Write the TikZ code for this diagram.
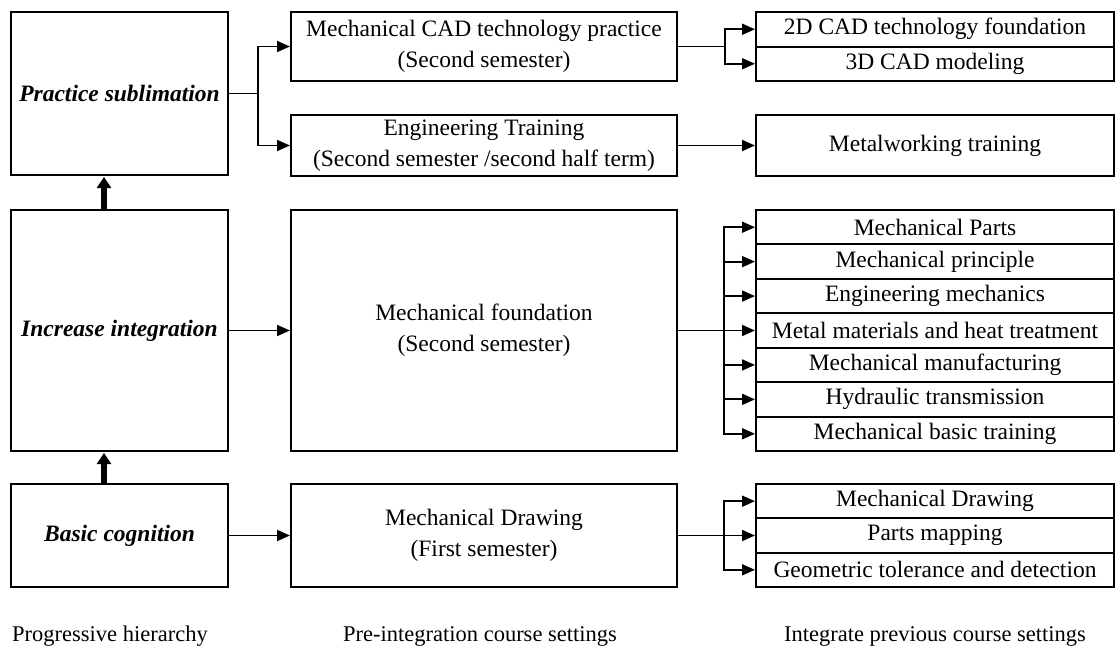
\documentclass[tikz,border=0pt]{standalone}
\usepackage{fontspec}
\setmainfont{Liberation Serif}
\usetikzlibrary{arrows.meta}
\begin{document}
\begin{tikzpicture}[x=1pt,y=-1pt,
  box/.style={draw, line width=2pt, rectangle, inner sep=0pt, align=center,
    font=\fontsize{23.5}{31}\selectfont},
  lbox/.style={box, minimum width=217pt},
  mbox/.style={box, minimum width=386pt},
  rbox/.style={box, minimum width=358pt},
  conn/.style={line width=1.2pt},
  arr/.style={line width=1.8pt, -{Triangle[length=13pt,width=11pt]}},
  uparr/.style={line width=5.5pt, -{Triangle[length=11pt,width=14pt]}},
  lbl/.style={font=\fontsize{22.5}{28}\selectfont},
  ital/.style={font=\fontsize{23.5}{28}\selectfont\bfseries\itshape}
]
\useasboundingbox (0,0) rectangle (1116,653);
\fill[white] (0,0) rectangle (1116,653);

% left column
\node[lbox, minimum height=163pt] (ps) at (119.5,93.5) {};
\node[ital] at (ps.center) {Practice sublimation};
\node[lbox, minimum height=241pt] (inc) at (119.5,330.5) {};
\node[ital] at (inc.center) {Increase integration};
\node[lbox, minimum height=103pt] (bc) at (119.5,535.5) {};
\node[ital] at (bc.center) {Basic cognition};

% middle column
\node[mbox, minimum height=69pt] (cad) at (484,46.5) {Mechanical CAD technology practice\\(Second semester)};
\node[mbox, minimum height=61pt] (eng) at (484,145.5) {Engineering Training\\(Second semester /second half term)};
\node[mbox, minimum height=241pt] (mf) at (484,330.5) {Mechanical foundation\\(Second semester)};
\node[mbox, minimum height=103pt] (md) at (484,535.5) {Mechanical Drawing\\(First semester)};

% right column
\node[rbox, minimum height=34.5pt] (r2d) at (935,29.25) {2D CAD technology foundation};
\node[rbox, minimum height=34.5pt] (r3d) at (935,63.75) {3D CAD modeling};
\node[rbox, minimum height=61pt] (rmw) at (935,145.5) {Metalworking training};

\node[rbox, minimum height=34.43pt] (s1) at (935,227.21) {Mechanical Parts};
\node[rbox, minimum height=34.43pt] (s2) at (935,261.64) {Mechanical principle};
\node[rbox, minimum height=34.43pt] (s3) at (935,296.07) {Engineering mechanics};
\node[rbox, minimum height=34.43pt] (s4) at (935,330.5) {Metal materials and heat treatment};
\node[rbox, minimum height=34.43pt] (s5) at (935,364.93) {Mechanical manufacturing};
\node[rbox, minimum height=34.43pt] (s6) at (935,399.36) {Hydraulic transmission};
\node[rbox, minimum height=34.43pt] (s7) at (935,433.79) {Mechanical basic training};

\node[rbox, minimum height=34.33pt] (t1) at (935,501.17) {Mechanical Drawing};
\node[rbox, minimum height=34.33pt] (t2) at (935,535.5) {Parts mapping};
\node[rbox, minimum height=34.33pt] (t3) at (935,569.83) {Geometric tolerance and detection};

% bottom labels
\node[lbl] (l1) at (110,636) {Progressive hierarchy};
\node[lbl] (l2) at (480,636) {Pre-integration course settings};
\node[lbl] (l3) at (935,636) {Integrate previous course settings};

% junctions
\coordinate (j1) at (258,93.5);
\coordinate (j2) at (725,46.5);
\coordinate (j3) at (724,330.5);
\coordinate (j4) at (724,535.5);

% connectors
\draw[conn] (ps.east) -- (j1);
\draw[arr] (j1) |- (cad.west);
\draw[arr] (j1) |- (eng.west);

\draw[conn] (cad.east) -- (j2);
\draw[arr] (j2) |- (r2d.west);
\draw[arr] (j2) |- (r3d.west);

\draw[arr] (eng.east) -- (rmw.west);

\draw[arr] (inc.east) -- (mf.west);
\draw[conn] (mf.east) -- (j3);
\foreach \n in {s1,s2,s3,s4,s5,s6,s7}{\draw[arr] (j3) |- (\n.west);}

\draw[arr] (bc.east) -- (md.west);
\draw[conn] (md.east) -- (j4);
\foreach \n in {t1,t2,t3}{\draw[arr] (j4) |- (\n.west);}

% upward arrows
\draw[uparr] ([xshift=-15.5pt]inc.north) -- ([xshift=-15.5pt,yshift=-1pt]ps.south);
\draw[uparr] ([xshift=-15.5pt]bc.north) -- ([xshift=-15.5pt,yshift=-1pt]inc.south);
\end{tikzpicture}
\end{document}
